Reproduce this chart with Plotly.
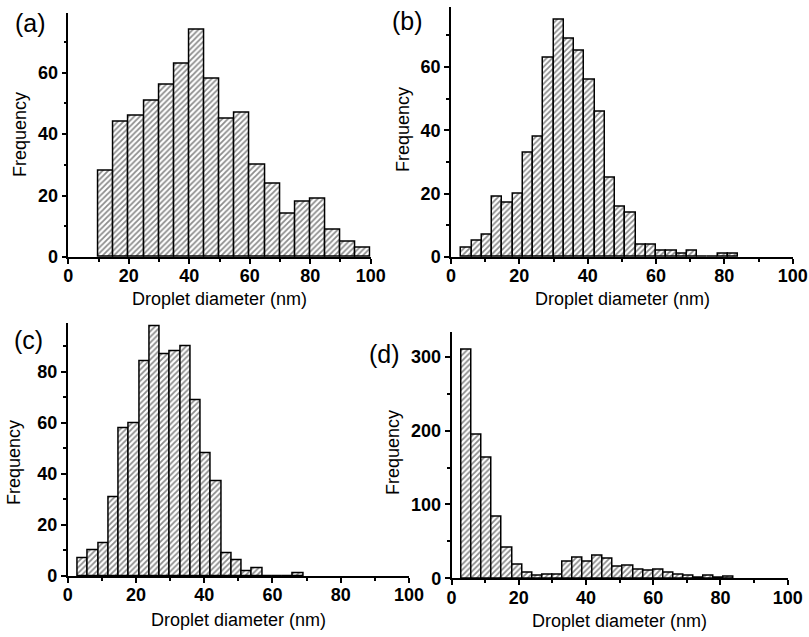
import plotly.graph_objects as go

W, H = 809, 637

# ---- data ----
a_bin_start = 10
a_bin_width = 5
a_counts = [28, 44, 46, 51, 56, 63, 74, 58, 45, 47, 30, 24, 14, 18, 19, 9, 5, 3]

b_bin_start = 3
b_bin_width = 3
b_counts = [3, 5, 7, 19, 17, 20, 33, 38, 63, 75, 69, 65, 56, 46, 25, 16, 14, 4, 4, 2, 2, 1, 2, 0, 0, 1, 1]

c_bin_start = 3
c_bin_width = 3
c_counts = [7, 10, 13, 31, 58, 60, 84, 98, 87, 88, 90, 69, 48, 37, 9, 6, 2, 3, 0, 0, 0, 1]

d_bin_start = 3
d_bin_width = 3
d_counts = [309, 194, 164, 83, 42, 19, 8, 3, 5, 5, 22, 28, 22, 31, 26, 16, 17, 11, 10, 11, 7, 5, 4, 1, 4, 1, 2]

panel_labels = ["(a)", "(b)", "(c)", "(d)"]
x_title = "Droplet diameter (nm)"
y_title = "Frequency"

# ---- layout geometry (pixels) ----
def px_x(p):
    return p / W

def px_y(p):
    return 1 - p / H

panels = [
    dict(counts=a_counts, start=a_bin_start, width=a_bin_width,
         xd=(68.3, 370.7), yd=(257, 12.7), yr=79.5, ymaj=20, ymin=10),
    dict(counts=b_counts, start=b_bin_start, width=b_bin_width,
         xd=(451, 792.7), yd=(257, 6.7), yr=79, ymaj=20, ymin=10),
    dict(counts=c_counts, start=c_bin_start, width=c_bin_width,
         xd=(67.7, 409), yd=(576, 323.3), yr=99, ymaj=20, ymin=10),
    dict(counts=d_counts, start=d_bin_start, width=d_bin_width,
         xd=(451.5, 787.7), yd=(578.3, 331.7), yr=334, ymaj=100, ymin=50),
]

FONT = "Liberation Sans, Arial, sans-serif"

fig = go.Figure()
layout = dict(
    width=W, height=H,
    margin=dict(l=0, r=0, t=0, b=0, autoexpand=False),
    paper_bgcolor="white", plot_bgcolor="white",
    showlegend=False,
    font=dict(family=FONT, color="black"),
    bargap=0,
)

for i, p in enumerate(panels):
    n = i + 1
    xa = "x" if n == 1 else f"x{n}"
    ya = "y" if n == 1 else f"y{n}"
    centers = [p["start"] + p["width"] * (k + 0.5) for k in range(len(p["counts"]))]
    fig.add_trace(go.Bar(
        x=centers, y=p["counts"], width=p["width"],
        xaxis=xa, yaxis=ya,
        marker=dict(
            color="white",
            line=dict(color="black", width=1.5),
            pattern=dict(shape="/", fgcolor="#1a1a1a", bgcolor="white", size=4, solidity=0.45),
        ),
        hoverinfo="skip",
        cliponaxis=False,
    ))
    axis_common = dict(
        showline=True, linecolor="black", linewidth=1.5, mirror=False,
        showgrid=False, zeroline=False, automargin=False,
        ticks="outside", ticklen=5, tickwidth=1.5, tickcolor="black",
        tickfont=dict(family=FONT, size=18, color="black", weight="bold"),
    )
    layout["xaxis" if n == 1 else f"xaxis{n}"] = dict(
        axis_common,
        domain=[px_x(p["xd"][0]), px_x(p["xd"][1])],
        range=[0, 100], dtick=20, tick0=0,
        ticklabelstandoff=-3,
        minor=dict(dtick=10, tick0=0, ticks="outside", ticklen=3, tickwidth=1.5, tickcolor="black"),
        anchor=ya,
    )
    layout["yaxis" if n == 1 else f"yaxis{n}"] = dict(
        axis_common,
        domain=[px_y(p["yd"][0]), px_y(p["yd"][1])],
        range=[0, p["yr"]], dtick=p["ymaj"], tick0=0,
        minor=dict(dtick=p["ymin"], tick0=0, ticks="outside", ticklen=3, tickwidth=1.5, tickcolor="black"),
        anchor=xa,
    )

annotations = []
# x-axis titles
for (cx, cy) in [(219.5, 299), (622, 299), (238, 620), (619, 621)]:
    annotations.append(dict(text=x_title, x=px_x(cx), y=px_y(cy), xref="paper", yref="paper",
                            xanchor="center", yanchor="middle", showarrow=False,
                            font=dict(family=FONT, size=18, color="black")))
# y-axis titles
for (cx, cy) in [(20, 135), (403, 130), (14, 463), (393, 453)]:
    annotations.append(dict(text=y_title, x=px_x(cx), y=px_y(cy), xref="paper", yref="paper",
                            xanchor="center", yanchor="middle", showarrow=False, textangle=-90,
                            font=dict(family=FONT, size=18, color="black")))
# panel labels
for lab, (cx, cy) in zip(panel_labels, [(31, 23), (408, 21), (28, 340), (384, 354)]):
    annotations.append(dict(text=lab, x=px_x(cx), y=px_y(cy), xref="paper", yref="paper",
                            xanchor="center", yanchor="middle", showarrow=False,
                            font=dict(family=FONT, size=25, color="black")))

layout["annotations"] = annotations
fig.update_layout(**layout)
fig.write_html("out.html",
               config={"displayModeBar": False},
               post_script="document.body.style.margin='0';document.body.style.overflow='hidden';")
